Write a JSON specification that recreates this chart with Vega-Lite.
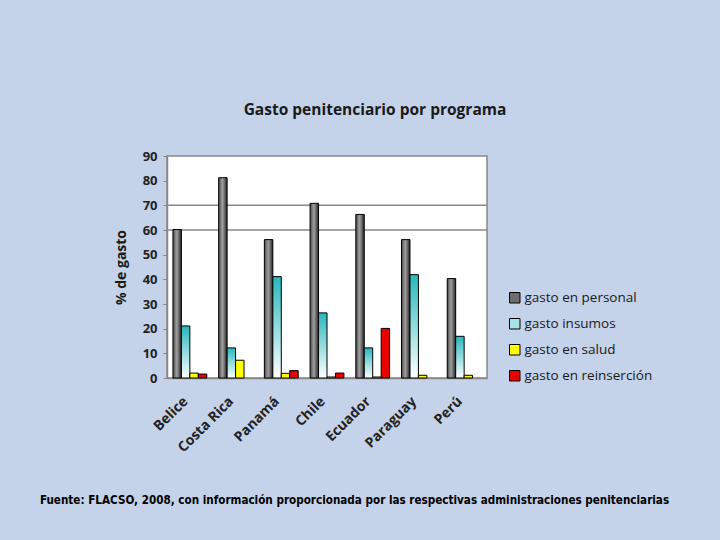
{
  "$schema": "https://vega.github.io/schema/vega-lite/v6.json",
  "autosize": "none",
  "width": 320,
  "height": 222,
  "padding": {"left": 167, "top": 156, "right": 233, "bottom": 162},
  "background": "#c4d2ea",
  "title": {
    "text": "Gasto penitenciario por programa",
    "font": "Open Sans",
    "fontSize": 15.5,
    "fontWeight": "bold",
    "color": "#1a1a1a",
    "anchor": "middle",
    "dx": 48,
    "offset": 32
  },
  "config": {
    "view": {"fill": "white", "stroke": "#888888", "strokeWidth": 1.5}
  },
  "data": {
    "values": [
      {"pais": "Belice", "serie": "gasto en personal", "valor": 60.2},
      {"pais": "Belice", "serie": "gasto insumos", "valor": 21.1},
      {"pais": "Belice", "serie": "gasto en salud", "valor": 2.0},
      {"pais": "Belice", "serie": "gasto en reinserción", "valor": 1.6},
      {"pais": "Costa Rica", "serie": "gasto en personal", "valor": 81.2},
      {"pais": "Costa Rica", "serie": "gasto insumos", "valor": 12.2},
      {"pais": "Costa Rica", "serie": "gasto en salud", "valor": 7.2},
      {"pais": "Panamá", "serie": "gasto en personal", "valor": 56.1},
      {"pais": "Panamá", "serie": "gasto insumos", "valor": 41.1},
      {"pais": "Panamá", "serie": "gasto en salud", "valor": 1.9},
      {"pais": "Panamá", "serie": "gasto en reinserción", "valor": 3.0},
      {"pais": "Chile", "serie": "gasto en personal", "valor": 70.8},
      {"pais": "Chile", "serie": "gasto insumos", "valor": 26.4},
      {"pais": "Chile", "serie": "gasto en salud", "valor": 0.4},
      {"pais": "Chile", "serie": "gasto en reinserción", "valor": 2.0},
      {"pais": "Ecuador", "serie": "gasto en personal", "valor": 66.3},
      {"pais": "Ecuador", "serie": "gasto insumos", "valor": 12.2},
      {"pais": "Ecuador", "serie": "gasto en salud", "valor": 0.4},
      {"pais": "Ecuador", "serie": "gasto en reinserción", "valor": 20.1},
      {"pais": "Paraguay", "serie": "gasto en personal", "valor": 56.1},
      {"pais": "Paraguay", "serie": "gasto insumos", "valor": 41.9},
      {"pais": "Paraguay", "serie": "gasto en salud", "valor": 1.1},
      {"pais": "Perú", "serie": "gasto en personal", "valor": 40.3},
      {"pais": "Perú", "serie": "gasto insumos", "valor": 16.9},
      {"pais": "Perú", "serie": "gasto en salud", "valor": 1.1}
    ]
  },
  "encoding": {
    "x": {
      "field": "pais",
      "type": "nominal",
      "sort": ["Belice", "Costa Rica", "Panamá", "Chile", "Ecuador", "Paraguay", "Perú"],
      "scale": {"paddingInner": 0.26, "paddingOuter": 0.13},
      "axis": {
        "title": "Fuente: FLACSO, 2008, con información proporcionada por las respectivas administraciones penitenciarias",
        "titleFont": "DejaVu Sans Condensed",
        "titleFontSize": 11.6,
        "titleFontWeight": "bold",
        "titleColor": "#000000",
        "titleX": 187,
        "titlePadding": 40,
        "labelAngle": -45,
        "labelFont": "Open Sans",
        "labelFontSize": 14,
        "labelFontWeight": "bold",
        "labelColor": "#222222",
        "labelPadding": 16,
        "labelOffset": -9,
        "ticks": false,
        "domainColor": "#888888",
        "domainWidth": 1.5
      }
    },
    "xOffset": {
      "field": "serie",
      "type": "nominal",
      "scale": {"domain": ["gasto en personal", "gasto insumos", "gasto en salud", "gasto en reinserción"]}
    },
    "y": {
      "field": "valor",
      "type": "quantitative",
      "scale": {"domain": [0, 90]},
      "axis": {
        "title": "% de gasto",
        "titleFont": "Open Sans",
        "titleFontSize": 14,
        "titleFontWeight": "bold",
        "titleColor": "#1a1a1a",
        "titlePadding": 14,
        "values": [0, 10, 20, 30, 40, 50, 60, 70, 80, 90],
        "labelFont": "Open Sans",
        "labelFontSize": 13,
        "labelFontWeight": "bold",
        "labelColor": "#222222",
        "labelPadding": 6,
        "tickSize": 4,
        "tickColor": "#888888",
        "grid": false,
        "domainColor": "#888888",
        "domainWidth": 1.5
      }
    }
  },
  "layer": [
    {
      "data": {"values": [{"g": 60}, {"g": 70}]},
      "mark": {"type": "rule", "color": "#888888", "strokeWidth": 1.5},
      "encoding": {
        "x": null,
        "xOffset": null,
        "y": {"field": "g", "type": "quantitative"}
      }
    },
    {
      "transform": [{"filter": "datum.serie === 'gasto en personal'"}],
      "mark": {
        "type": "bar",
        "stroke": "#000000",
        "strokeWidth": 1,
        "fill": {"gradient": "linear", "x1": 0, "y1": 0, "x2": 1, "y2": 0, "stops": [{"offset": 0, "color": "#4a4a4a"}, {"offset": 0.45, "color": "#a0a0a0"}, {"offset": 1, "color": "#262626"}]}
      }
    },
    {
      "transform": [{"filter": "datum.serie === 'gasto insumos'"}],
      "mark": {
        "type": "bar",
        "stroke": "#000000",
        "strokeWidth": 1,
        "fill": {"gradient": "linear", "x1": 0, "y1": 0, "x2": 0, "y2": 1, "stops": [{"offset": 0, "color": "#27b8bc"}, {"offset": 1, "color": "#ffffff"}]}
      }
    },
    {
      "transform": [{"filter": "datum.serie === 'gasto en salud' || datum.serie === 'gasto en reinserción'"}],
      "mark": {"type": "bar", "stroke": "#000000", "strokeWidth": 1, "fillOpacity": 1},
      "encoding": {
        "color": {
          "field": "serie",
          "type": "nominal",
          "scale": {
            "domain": ["gasto en personal", "gasto insumos", "gasto en salud", "gasto en reinserción"],
            "range": ["#6e6e6e", "#a8e2e4", "#ffff00", "#e60000"]
          },
          "legend": {
            "title": null,
            "orient": "none",
            "legendX": 341,
            "legendY": 135,
            "symbolType": "square",
            "symbolSize": 110,
            "symbolStrokeColor": "#000000",
            "symbolStrokeWidth": 1,
            "symbolOpacity": 1,
            "labelFont": "Open Sans",
            "labelFontSize": 13.5,
            "labelColor": "#1a1a1a",
            "labelOffset": 3,
            "rowPadding": 11,
            "padding": 0
          }
        }
      }
    }
  ]
}
